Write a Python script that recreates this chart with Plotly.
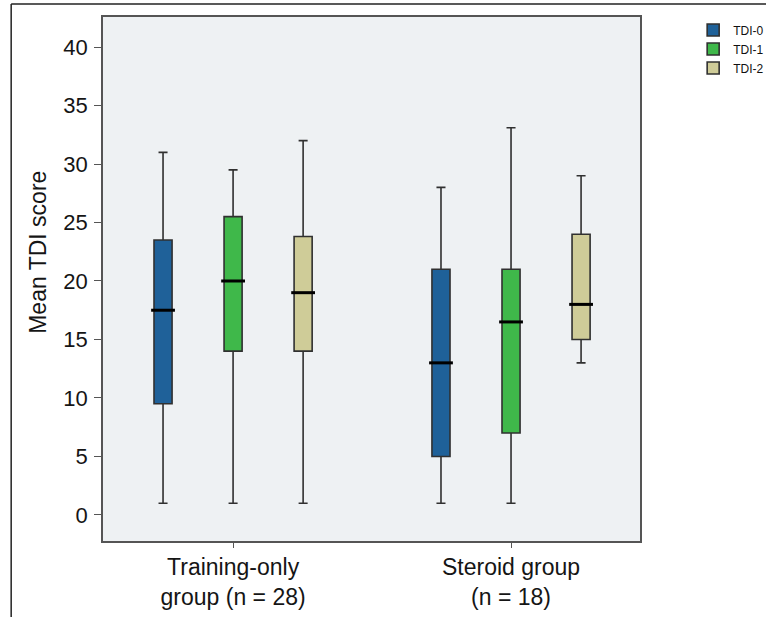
import plotly.graph_objects as go

groups = ["Training-only<br>group (n = 28)", "Steroid group<br>(n = 18)"]
series = ["TDI-0", "TDI-1", "TDI-2"]
colors = ["#1f6199", "#3fb84a", "#cfcc98"]
y_title = "Mean TDI score"

# box stats per series: [training, steroid]
lower = {"TDI-0": [1.0, 1.0], "TDI-1": [1.0, 1.0], "TDI-2": [1.0, 13.0]}
q1 = {"TDI-0": [9.5, 5.0], "TDI-1": [14.0, 7.0], "TDI-2": [14.0, 15.0]}
median = {"TDI-0": [17.5, 13.0], "TDI-1": [20.0, 16.5], "TDI-2": [19.0, 18.0]}
q3 = {"TDI-0": [23.5, 21.0], "TDI-1": [25.5, 21.0], "TDI-2": [23.8, 24.0]}
upper = {"TDI-0": [31.0, 28.0], "TDI-1": [29.5, 33.1], "TDI-2": [32.0, 29.0]}

offsets = [-0.252, 0.0, 0.252]
box_w = 0.065

fig = go.Figure()
for i, s in enumerate(series):
    xs = [g + offsets[i] for g in range(len(groups))]
    fig.add_trace(go.Box(
        name=s, x=xs, q1=q1[s], median=median[s], q3=q3[s],
        lowerfence=lower[s], upperfence=upper[s],
        width=box_w, whiskerwidth=0.5,
        fillcolor=colors[i],
        line=dict(color="#303030", width=1.6),
        boxpoints=False, hoverinfo="skip",
    ))
for i, s in enumerate(series):
    xs = [g + offsets[i] for g in range(len(groups))]
    fig.add_trace(go.Scatter(
        x=xs, y=median[s], mode="markers", showlegend=False, hoverinfo="skip",
        marker=dict(symbol="line-ew-open", size=17, color="#000000",
                    line=dict(color="#000000", width=3)),
    ))

fig.update_layout(
    width=766, height=617,
    margin=dict(l=103, r=126, t=17, b=76, autoexpand=False),
    paper_bgcolor="white", plot_bgcolor="#eef1f3",
    font=dict(family="Liberation Sans, Arial, sans-serif", color="#151515", size=22),
    showlegend=True,
    legend=dict(x=1.099, y=1.003, xanchor="left", yanchor="top",
                font=dict(size=12, color="#111"), bgcolor="rgba(0,0,0,0)",
                itemwidth=30, tracegroupgap=0),
    shapes=[
        dict(type="line", xref="paper", yref="paper", x0=-0.171, x1=1.25, y0=1.0248, y1=1.0248,
             line=dict(color="#222", width=1.5)),
        dict(type="line", xref="paper", yref="paper", x0=-0.171, x1=-0.171, y0=1.0248, y1=-0.16,
             line=dict(color="#222", width=1.5)),
    ],
    annotations=[
        dict(text=y_title, textangle=-90, xref="paper", yref="paper", x=-0.121, y=0.55,
             xanchor="center", yanchor="middle", showarrow=False, font=dict(size=23)),
    ],
)
fig.update_xaxes(
    range=[-0.468, 1.464], tickvals=[0, 1], ticktext=groups,
    showgrid=False, zeroline=False, showline=True, mirror=True, automargin=False,
    linecolor="#555", linewidth=1.5, ticks="outside", ticklen=5, tickcolor="#555",
    tickfont=dict(size=23),
)
fig.update_yaxes(
    range=[-2.23, 42.57], tickvals=[0, 5, 10, 15, 20, 25, 30, 35, 40],
    showgrid=False, zeroline=False, showline=True, mirror=True, automargin=False,
    linecolor="#555", linewidth=1.5, ticks="outside", ticklen=7, tickcolor="#555",
    tickfont=dict(size=22), ticklabelstandoff=2,
)
fig.write_html("out.html", config={"displayModeBar": False},
               post_script="document.body.style.margin='0';")
